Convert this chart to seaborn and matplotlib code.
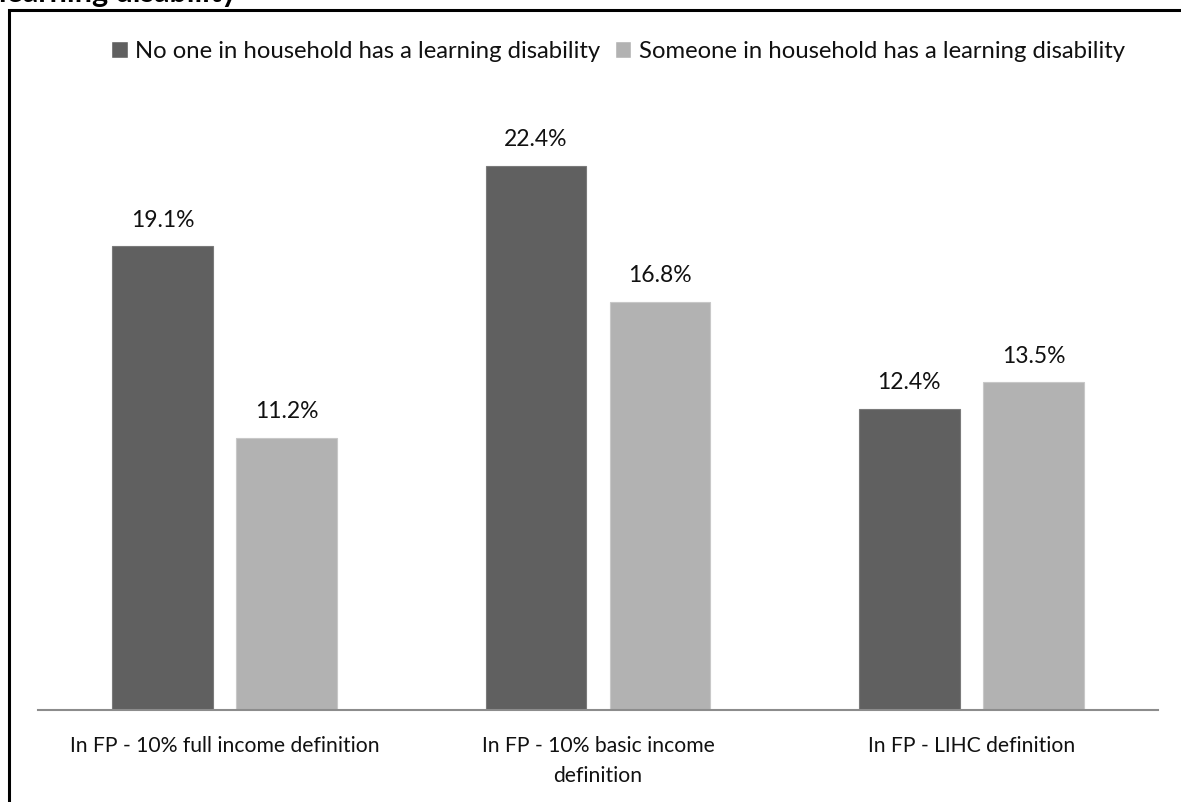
import pandas as pd
import seaborn as sns
import matplotlib.pyplot as plt
from matplotlib.patches import Rectangle

# Chart data
categories = ['In FP - 10% full income definition',
              'In FP - 10% basic income\ndefinition',
              'In FP - LIHC definition']
series = ['No one in household has a learning disability',
          'Someone in household has a learning disability']
no_one = [19.1, 22.4, 12.4]
someone = [11.2, 16.8, 13.5]

df = pd.DataFrame({
    'category': categories * 2,
    'group': [series[0]] * 3 + [series[1]] * 3,
    'value': no_one + someone,
})

sns.set_theme(style='white')
plt.rcParams['font.family'] = ['Lato', 'DejaVu Sans']

W, H = 1181, 803
fig = plt.figure(figsize=(W / 100, H / 100), dpi=100)
ax = fig.add_axes([38 / W, 1 - 711 / H, (1158 - 38) / W, (711 - 104) / H])

sns.barplot(data=df, x='category', y='value', hue='group',
            palette=['#606060', '#b2b2b2'], width=0.665, gap=0.19,
            saturation=1, ax=ax)

for patch, c in zip(ax.patches, ['#7a7a7a'] * 3 + ['#c8c8c8'] * 3):
    patch.set_edgecolor(c)
    patch.set_linewidth(0.8)

for cont in ax.containers:
    ax.bar_label(cont, fmt='%.1f%%', padding=12, fontsize=16.5, color='#111111')

ax.set_xlim(-0.5, 2.5)
ax.set_ylim(0, 25)
ax.set_xlabel('')
ax.set_ylabel('')
ax.set_yticks([])
ax.tick_params(axis='x', length=0, pad=18, labelsize=15.2, labelcolor='#111111')
for lbl in ax.get_xticklabels():
    lbl.set_linespacing(1.65)
for side in ['left', 'right', 'top']:
    ax.spines[side].set_visible(False)
ax.spines['bottom'].set_color('#8c8c8c')
ax.spines['bottom'].set_linewidth(1.5)

sns.move_legend(ax, 'center', bbox_to_anchor=(618 / W, 1 - 52 / H),
                bbox_transform=fig.transFigure, ncol=2, frameon=False,
                title=None, fontsize=17.2, handlelength=0.7, handleheight=0.7,
                handletextpad=0.3, columnspacing=0.6)
for t in ax.get_legend().get_texts():
    t.set_color('#111111')

# outer chart border (extends past the image on right/bottom)
fig.patches.append(Rectangle((9 / W, -0.1), 1.2, 1.1 - 11 / H, transform=fig.transFigure,
                             fill=False, edgecolor='black', linewidth=2.2))

# title cut off at the top of the image
fig.text(-1 / W, 1 - 2 / H, 'learning disability', fontsize=22, fontweight='bold',
         va='baseline', ha='left', color='black')

fig.savefig('out.png', dpi=100)
